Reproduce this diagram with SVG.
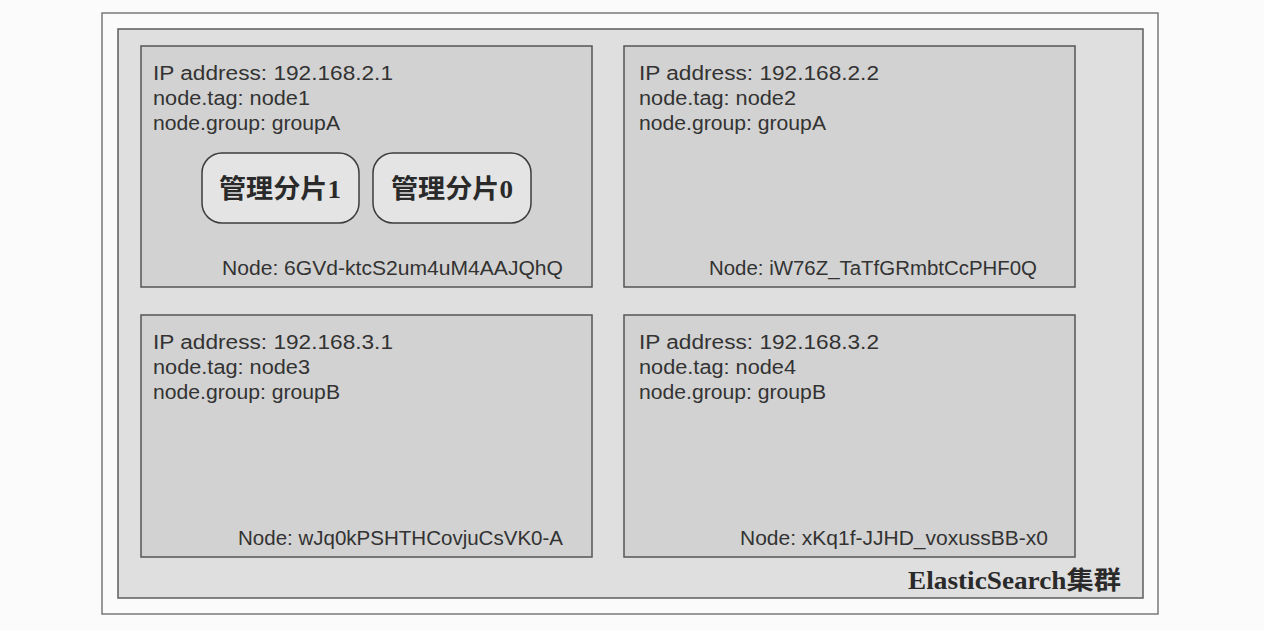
<svg xmlns="http://www.w3.org/2000/svg" width="1264" height="630" viewBox="0 0 1264 630">
  <style>
    .page { fill: #fbfbfb; }
    .outer { fill: #fbfbfb; stroke: #7a7a7a; stroke-width: 1.5; }
    .cluster { fill: #dfdfdf; stroke: #5e5e5e; stroke-width: 1.5; }
    .node { fill: #d2d2d2; stroke: #555555; stroke-width: 1.5; }
    .shard { fill: #e4e4e4; stroke: #3c3c3c; stroke-width: 1.5; }
    .info { font-family: "Liberation Sans", "Open Sans", sans-serif; font-size: 19.5px; fill: #333333; }
    .nid { font-family: "Liberation Sans", "Open Sans", sans-serif; font-size: 19.5px; fill: #333333; }
    .shardtxt { font-family: "Liberation Serif", "Noto Sans CJK SC", serif; font-size: 26px; font-weight: bold; fill: #2a2a2a; }
    .title { font-family: "Liberation Serif", "Noto Sans CJK SC", serif; font-size: 25px; font-weight: bold; fill: #2a2a2a; }
  </style>
  <rect class="page" x="0" y="0" width="1264" height="630"/>
  <g id="outer-frame">
    <rect class="outer" x="102" y="13" width="1056" height="601"/>
  </g>
  <g id="cluster">
    <rect class="cluster" x="118" y="29" width="1025" height="569"/>
    <text class="title" x="908" y="589" textLength="213" lengthAdjust="spacingAndGlyphs">ElasticSearch集群</text>
  </g>
  <g id="node1">
    <rect class="node" x="141" y="46" width="451" height="241"/>
    <text class="info" x="153" y="80" textLength="240" lengthAdjust="spacingAndGlyphs">IP address: 192.168.2.1</text>
    <text class="info" x="153" y="105" textLength="157" lengthAdjust="spacingAndGlyphs">node.tag: node1</text>
    <text class="info" x="153" y="130" textLength="187" lengthAdjust="spacingAndGlyphs">node.group: groupA</text>
    <text class="nid" x="222" y="275" textLength="341" lengthAdjust="spacingAndGlyphs">Node: 6GVd-ktcS2um4uM4AAJQhQ</text>
  </g>
  <g id="shard1">
    <rect class="shard" x="202" y="153" width="157" height="70" rx="20" ry="20"/>
    <text class="shardtxt" x="280" y="198" text-anchor="middle" textLength="122" lengthAdjust="spacingAndGlyphs">管理分片1</text>
  </g>
  <g id="shard0">
    <rect class="shard" x="373" y="153" width="158" height="70" rx="20" ry="20"/>
    <text class="shardtxt" x="452" y="198" text-anchor="middle" textLength="122" lengthAdjust="spacingAndGlyphs">管理分片0</text>
  </g>
  <g id="node2">
    <rect class="node" x="624" y="46" width="451" height="241"/>
    <text class="info" x="639" y="80" textLength="240" lengthAdjust="spacingAndGlyphs">IP address: 192.168.2.2</text>
    <text class="info" x="639" y="105" textLength="157" lengthAdjust="spacingAndGlyphs">node.tag: node2</text>
    <text class="info" x="639" y="130" textLength="187" lengthAdjust="spacingAndGlyphs">node.group: groupA</text>
    <text class="nid" x="709" y="275" textLength="328" lengthAdjust="spacingAndGlyphs">Node: iW76Z_TaTfGRmbtCcPHF0Q</text>
  </g>
  <g id="node3">
    <rect class="node" x="141" y="315" width="451" height="242"/>
    <text class="info" x="153" y="349" textLength="240" lengthAdjust="spacingAndGlyphs">IP address: 192.168.3.1</text>
    <text class="info" x="153" y="374" textLength="157" lengthAdjust="spacingAndGlyphs">node.tag: node3</text>
    <text class="info" x="153" y="399" textLength="187" lengthAdjust="spacingAndGlyphs">node.group: groupB</text>
    <text class="nid" x="238" y="545" textLength="325" lengthAdjust="spacingAndGlyphs">Node: wJq0kPSHTHCovjuCsVK0-A</text>
  </g>
  <g id="node4">
    <rect class="node" x="624" y="315" width="451" height="242"/>
    <text class="info" x="639" y="349" textLength="240" lengthAdjust="spacingAndGlyphs">IP address: 192.168.3.2</text>
    <text class="info" x="639" y="374" textLength="157" lengthAdjust="spacingAndGlyphs">node.tag: node4</text>
    <text class="info" x="639" y="399" textLength="187" lengthAdjust="spacingAndGlyphs">node.group: groupB</text>
    <text class="nid" x="740" y="545" textLength="308" lengthAdjust="spacingAndGlyphs">Node: xKq1f-JJHD_voxussBB-x0</text>
  </g>
  <g id="connectors"></g>
</svg>
